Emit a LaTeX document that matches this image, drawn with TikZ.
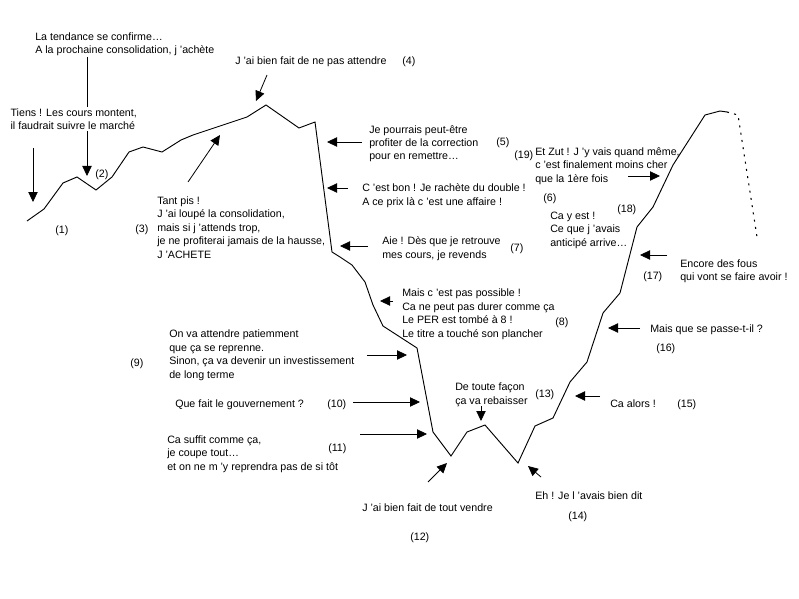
\documentclass[tikz,border=0pt]{standalone}
\usepackage{fontspec}
\setmainfont{Liberation Sans}
\usetikzlibrary{arrows.meta}
\begin{document}
\begin{tikzpicture}[x=0.75pt,y=-0.75pt,
  font=\fontsize{8}{10.1}\selectfont,
  lbl/.style={anchor=base west, inner sep=0pt, align=left},
  arr/.style={-{Triangle[length=7.5pt,width=7pt]}, line width=0.6pt},
  curveline/.style={line width=0.7pt, line join=miter}]
\useasboundingbox[fill=white] (0,0) rectangle (799,599);

% price curve
\draw[curveline] (27,221) -- (44,209) -- (63,183) -- (77,177) -- (96,190) -- (112,177)
  -- (129,152) -- (143,147) -- (162,152) -- (181,140) -- (193,135) -- (247,117)
  -- (266,105) -- (299,128) -- (315,122) -- (332,252) -- (340,257) -- (352,265)
  -- (365,282) -- (373,305) -- (383,326) -- (417,348) -- (433,432) -- (451,456)
  -- (467,432) -- (485,425) -- (518,463) -- (535,426) -- (553,418) -- (570,382)
  -- (587,362) -- (603,313) -- (620,293) -- (637,227) -- (653,207) -- (673,165)
  -- (705,115) -- (720,111) -- (727,112);
\draw[line width=0.8pt, dash pattern=on 1.5pt off 4pt] (727,112) -- (738,115) -- (757,237);

% arrow end points
\coordinate (s1) at (33,148);  \coordinate (e1) at (33,202);
\coordinate (s2) at (87,57);   \coordinate (e2) at (87,176);
\coordinate (s3) at (188,182); \coordinate (e3) at (220,135);
\coordinate (s4) at (267,75);  \coordinate (e4) at (256,101);
\coordinate (s5) at (362,142); \coordinate (e5) at (327,142);
\coordinate (s6) at (348,188); \coordinate (e6) at (327,188);
\coordinate (s7) at (368,246); \coordinate (e7) at (340,246);
\coordinate (s8) at (393,301); \coordinate (e8) at (380,301);
\coordinate (s9) at (367,355); \coordinate (e9) at (407,355);
\coordinate (s10) at (353,402); \coordinate (e10) at (420,402);
\coordinate (s11) at (360,434); \coordinate (e11) at (427,434);
\coordinate (s12) at (428,482); \coordinate (e12) at (447,463);
\coordinate (s13) at (481,406); \coordinate (e13) at (481,421);
\coordinate (s14) at (541,477); \coordinate (e14) at (528,466);
\coordinate (s15) at (600,396); \coordinate (e15) at (575,396);
\coordinate (s16) at (640,328); \coordinate (e16) at (608,328);
\coordinate (s17) at (667,255); \coordinate (e17) at (640,255);
\coordinate (s19) at (628,176); \coordinate (e19) at (660,176);

\draw[arr] (s1) -- (e1);
\draw[arr] (s2) -- (e2);
\draw[arr] (s3) -- (e3);
\draw[arr] (s4) -- (e4);
\draw[arr] (s5) -- (e5);
\draw[arr] (s6) -- (e6);
\draw[arr] (s7) -- (e7);
\draw[arr] (s8) -- (e8);
\draw[arr] (s9) -- (e9);
\draw[arr] (s10) -- (e10);
\draw[arr] (s11) -- (e11);
\draw[arr] (s12) -- (e12);
\draw[arr] (s13) -- (e13);
\draw[arr] (s14) -- (e14);
\draw[arr] (s15) -- (e15);
\draw[arr] (s16) -- (e16);
\draw[arr] (s17) -- (e17);
\draw[arr] (s19) -- (e19);

% texts (multi-line nodes: position is the baseline of the last line)
\node[lbl] (ttend) at (35,53.5) {La tendance se confirme…\\A la prochaine consolidation, j ’achète};
\node[lbl, fill=white, inner sep=1pt] (ttiens) at (9,130) {Tiens ! Les cours montent,\\il faudrait suivre le marché};
\node[lbl] (t4) at (235,65) {J ’ai bien fait de ne pas attendre};
\node[lbl] (n4) at (402,65) {(4)};
\node[lbl] (n1) at (55,233) {(1)};
\node[lbl] (n2) at (95,177) {(2)};
\node[lbl] (n3) at (135,232) {(3)};
\node[lbl] (t3) at (157,258) {Tant pis !\\J ’ai loupé la consolidation,\\mais si j ’attends trop,\\je ne profiterai jamais de la hausse,\\J ’ACHETE};
\node[lbl] (t5) at (369,160) {Je pourrais peut-être\\profiter de la correction\\pour en remettre…};
\node[lbl] (n5) at (496,146) {(5)};
\node[lbl] (n19) at (514,159) {(19)};
\node[lbl] (t6) at (362,205) {C ’est bon ! Je rachète du double !\\A ce prix là c ’est une affaire !};
\node[lbl] (n6) at (543,201) {(6)};
\node[lbl] (t7) at (382,258) {Aie ! Dès que je retrouve\\mes cours, je revends};
\node[lbl] (n7) at (510,251) {(7)};
\node[lbl] (t8) at (402,337) {Mais c ’est pas possible !\\Ca ne peut pas durer comme ça\\Le PER est tombé à 8 !\\Le titre a touché son plancher};
\node[lbl] (n8) at (555,325) {(8)};
\node[lbl] (t19) at (535,182) {Et Zut ! J ’y vais quand même,\\c ’est finalement moins cher\\que la 1ère fois};
\node[lbl] (n18) at (617,212) {(18)};
\node[lbl] (t18) at (550,246) {Ca y est !\\Ce que j ’avais\\anticipé arrive…};
\node[lbl] (t17) at (680,280.5) {Encore des fous\\qui vont se faire avoir !};
\node[lbl] (n17) at (643,279) {(17)};
\node[lbl] (t16) at (650,332) {Mais que se passe-t-il ?};
\node[lbl] (n16) at (656,351) {(16)};
\node[lbl] (t15) at (610,407) {Ca alors !};
\node[lbl] (n15) at (677,407) {(15)};
\node[lbl] (t9) at (169,378) {On va attendre patiemment\\que ça se reprenne.\\Sinon, ça va devenir un investissement\\de long terme};
\node[lbl] (n9) at (130,366) {(9)};
\node[lbl] (t10) at (175,407) {Que fait le gouvernement ?};
\node[lbl] (n10) at (327,407) {(10)};
\node[lbl] (t11) at (167,470) {Ca suffit comme ça,\\je coupe tout…\\et on ne m ’y reprendra pas de si tôt};
\node[lbl] (n11) at (328,451) {(11)};
\node[lbl] (t12) at (362,511) {J ’ai bien fait de tout vendre};
\node[lbl] (n12) at (410,540) {(12)};
\node[lbl] (t13) at (455,404) {De toute façon\\ça va rebaisser};
\node[lbl] (n13) at (535,397) {(13)};
\node[lbl] (t14) at (535,499) {Eh ! Je l ’avais bien dit};
\node[lbl] (n14) at (568,519) {(14)};
\end{tikzpicture}
\end{document}
